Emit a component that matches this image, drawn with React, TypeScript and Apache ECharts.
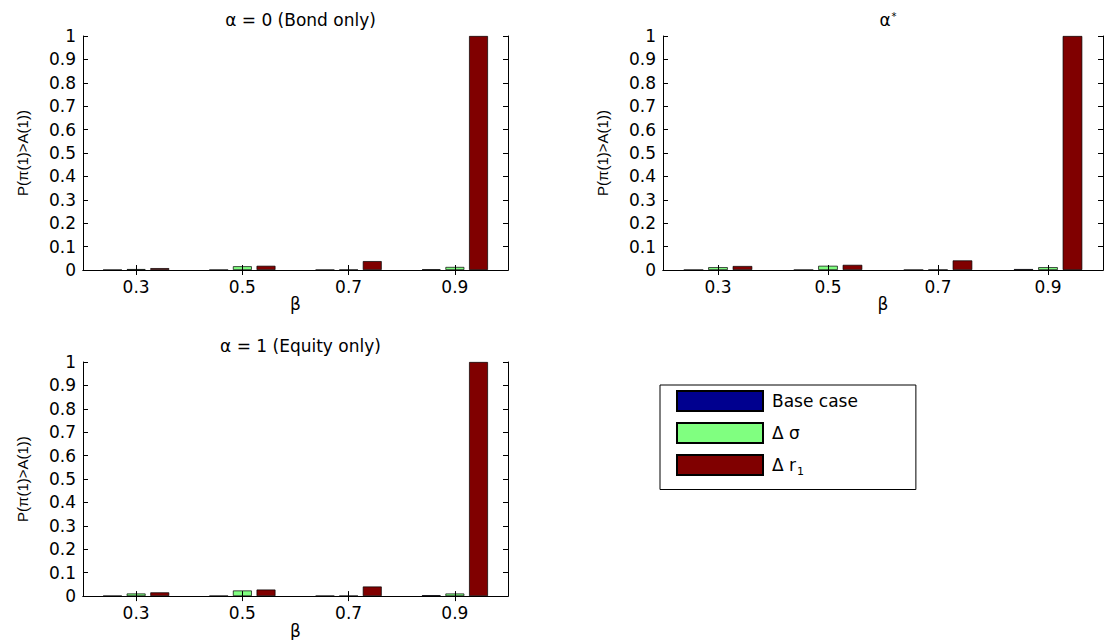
import React, { useEffect, useRef } from 'react';
import * as echarts from 'echarts';

const categories = ['0.3', '0.5', '0.7', '0.9'];
const seriesNames = ['Base case', 'Δ σ', 'Δ r1'];
const seriesColors = ['#00008F', '#80FF80', '#800000'];

const bondBase = [0.0005, 0.0005, 0.0005, 0.003];
const bondSigma = [0.004, 0.016, 0.001, 0.013];
const bondR1 = [0.008, 0.018, 0.038, 1];

const starBase = [0.0005, 0.0005, 0.0005, 0.004];
const starSigma = [0.012, 0.018, 0.001, 0.012];
const starR1 = [0.017, 0.022, 0.041, 1];

const equityBase = [0.001, 0.001, 0.001, 0.004];
const equitySigma = [0.011, 0.024, 0.001, 0.011];
const equityR1 = [0.016, 0.028, 0.041, 1];

const panelData = [
  [bondBase, bondSigma, bondR1],
  [starBase, starSigma, starR1],
  [equityBase, equitySigma, equityR1],
];

const panelTitles = ['{t|α = 0 (Bond only)}', '{t|α}{sup|*}', '{t|α = 1 (Equity only)}'];
const yAxisName = 'P(π(1)>A(1))';
const xAxisName = 'β';

const FONT = '"DejaVu Sans", "Liberation Sans", sans-serif';

const grids = [
  { left: 83, top: 36, width: 425, height: 234 },
  { left: 663, top: 36, width: 440, height: 234 },
  { left: 83, top: 362, width: 425, height: 235 },
];

export default function App() {
  const ref = useRef<HTMLDivElement>(null);
  useEffect(() => {
    document.body.style.margin = '0';
    const chart = echarts.init(ref.current!, null, { renderer: 'svg' });

    const xAxes: any[] = [];
    const yAxes: any[] = [];
    const series: any[] = [];
    const titles: any[] = [];

    grids.forEach((g, i) => {
      xAxes.push({
        type: 'category',
        gridIndex: i,
        data: categories,
        position: 'bottom',
        name: xAxisName,
        nameLocation: 'middle',
        nameGap: 24,
        nameTextStyle: { fontFamily: FONT, fontSize: 17, color: '#000' },
        axisLine: { show: true, lineStyle: { color: '#000', width: 1 } },
        axisTick: { show: true, inside: true, alignWithLabel: true, length: 5, lineStyle: { color: '#000' } },
        axisLabel: { show: true, margin: 8, fontFamily: FONT, fontSize: 17, color: '#000' },
        splitLine: { show: false },
        z: 5,
      });
      xAxes.push({
        type: 'category',
        gridIndex: i,
        data: categories,
        position: 'top',
        axisLine: { show: true, lineStyle: { color: '#000', width: 1 } },
        axisTick: { show: true, inside: true, alignWithLabel: true, length: 5, lineStyle: { color: '#000' } },
        axisLabel: { show: false },
        splitLine: { show: false },
        z: 5,
      });
      yAxes.push({
        type: 'value',
        gridIndex: i,
        min: 0,
        max: 1,
        interval: 0.1,
        position: 'left',
        name: yAxisName,
        nameLocation: 'middle',
        nameGap: 53,
        nameTextStyle: { fontFamily: '"Liberation Sans", sans-serif', fontSize: 15, color: '#000' },
        axisLine: { show: true, lineStyle: { color: '#000', width: 1 } },
        axisTick: { show: true, inside: true, length: 5, lineStyle: { color: '#000' } },
        axisLabel: { show: true, margin: 7, fontFamily: FONT, fontSize: 17, color: '#000' },
        splitLine: { show: false },
        z: 5,
      });
      yAxes.push({
        type: 'value',
        gridIndex: i,
        min: 0,
        max: 1,
        interval: 0.1,
        position: 'right',
        axisLine: { show: true, lineStyle: { color: '#000', width: 1 } },
        axisTick: { show: true, inside: true, length: 5, lineStyle: { color: '#000' } },
        axisLabel: { show: false },
        splitLine: { show: false },
        z: 5,
      });
      panelData[i].forEach((vals, k) => {
        series.push({
          type: 'bar',
          name: seriesNames[k],
          xAxisIndex: 2 * i,
          yAxisIndex: 2 * i,
          data: vals,
          barWidth: '17.8%',
          barGap: '25%',
          itemStyle: { color: seriesColors[k], borderColor: '#000', borderWidth: 0.7 },
        });
      });
      titles.push({
        text: panelTitles[i],
        left: g.left + g.width / 2,
        top: g.top - 30,
        textAlign: 'center',
        textStyle: {
          fontWeight: 'normal',
          rich: {
            t: { fontFamily: FONT, fontSize: 17, fontWeight: 'normal', color: '#000' },
            sup: { fontFamily: FONT, fontSize: 10, fontWeight: 'normal', color: '#000', verticalAlign: 'top', padding: [0, 0, 8, 1] },
          },
        },
      });
    });

    chart.setOption({
      animation: false,
      backgroundColor: '#fff',
      title: titles,
      grid: grids.map((g) => ({ ...g, containLabel: false })),
      xAxis: xAxes,
      yAxis: yAxes,
      series,
      legend: {
        orient: 'vertical',
        left: 660,
        top: 385,
        itemWidth: 86,
        itemHeight: 20,
        itemGap: 10,
        icon: 'rect',
        padding: [5, 58, 13, 16],
        borderColor: '#000',
        borderWidth: 1,
        data: seriesNames,
        formatter: (name: string) => (name === 'Δ r1' ? '{t|Δ r}{s|1}' : '{t|' + name + '}'),
        textStyle: {
          fontFamily: FONT,
          fontSize: 17,
          color: '#000',
          rich: {
            t: { fontFamily: FONT, fontSize: 17, color: '#000', padding: [0, 0, 0, 4] },
            s: { fontFamily: FONT, fontSize: 11, color: '#000', padding: [12, 0, 0, 1] },
          },
        },
      },
    });
    return () => chart.dispose();
  }, []);
  return <div ref={ref} style={{ width: 1104, height: 640 }} />;
}
